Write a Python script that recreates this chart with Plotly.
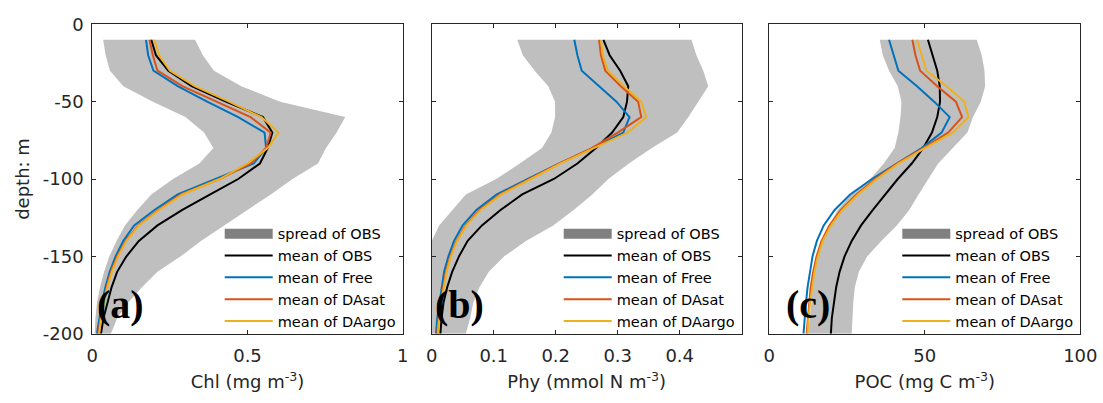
import plotly.graph_objects as go

depth = [-10, -20, -30, -40, -50, -60, -70, -80, -90, -100,
         -110, -120, -130, -140, -150, -160, -170, -180, -190, -200]

# Panel (a) Chl
chl_lo = [0.035, 0.043, 0.057, 0.10, 0.195, 0.30, 0.36, 0.39, 0.345, 0.26,
          0.19, 0.145, 0.105, 0.078, 0.055, 0.038, 0.025, 0.015, 0.010, 0.008]
chl_hi = [0.331, 0.356, 0.392, 0.48, 0.605, 0.815, 0.787, 0.753, 0.727, 0.645,
          0.575, 0.50, 0.425, 0.35, 0.285, 0.21, 0.16, 0.115, 0.08, 0.06]
chl_obs = [0.19, 0.205, 0.245, 0.32, 0.43, 0.55, 0.58, 0.565, 0.54, 0.47,
           0.38, 0.29, 0.21, 0.15, 0.11, 0.08, 0.062, 0.048, 0.036, 0.028]
chl_free = [0.173, 0.18, 0.197, 0.275, 0.37, 0.47, 0.555, 0.56, 0.52, 0.40,
            0.275, 0.20, 0.135, 0.10, 0.075, 0.056, 0.042, 0.031, 0.022, 0.015]
chl_dasat = [0.184, 0.195, 0.21, 0.29, 0.40, 0.51, 0.575, 0.56, 0.51, 0.41,
             0.285, 0.212, 0.148, 0.108, 0.08, 0.06, 0.046, 0.035, 0.026, 0.02]
chl_daargo = [0.20, 0.215, 0.25, 0.33, 0.44, 0.545, 0.60, 0.565, 0.50, 0.41,
              0.29, 0.215, 0.15, 0.11, 0.083, 0.063, 0.048, 0.037, 0.028, 0.022]

# Panel (b) Phy
phy_lo = [0.138, 0.147, 0.166, 0.188, 0.199, 0.199, 0.193, 0.178, 0.142, 0.104,
          0.055, 0.033, 0.012, 0.0, 0.0, 0.0, 0.0, 0.0, 0.0, 0.0]
phy_hi = [0.419, 0.427, 0.438, 0.446, 0.43, 0.414, 0.396, 0.355, 0.318, 0.285,
          0.259, 0.229, 0.196, 0.152, 0.117, 0.092, 0.077, 0.067, 0.062, 0.055]
phy_obs = [0.277, 0.287, 0.304, 0.317, 0.315, 0.309, 0.291, 0.265, 0.235, 0.197,
           0.146, 0.111, 0.081, 0.058, 0.044, 0.033, 0.025, 0.019, 0.016, 0.014]
phy_free = [0.23, 0.235, 0.242, 0.27, 0.298, 0.319, 0.309, 0.26, 0.205, 0.155,
            0.105, 0.072, 0.05, 0.036, 0.027, 0.02, 0.016, 0.012, 0.009, 0.007]
phy_dasat = [0.27, 0.273, 0.28, 0.305, 0.333, 0.338, 0.30, 0.258, 0.205, 0.158,
             0.11, 0.077, 0.055, 0.04, 0.03, 0.023, 0.018, 0.014, 0.011, 0.009]
phy_daargo = [0.273, 0.276, 0.284, 0.31, 0.338, 0.346, 0.316, 0.262, 0.207, 0.16,
              0.112, 0.079, 0.056, 0.041, 0.031, 0.024, 0.019, 0.015, 0.012, 0.010]

# Panel (c) POC
poc_lo = [35.5, 36.5, 38.5, 41.3, 42.5, 42.2, 41.5, 40.3, 36.8, 32.5,
          26.3, 22.0, 19.2, 17.3, 15.8, 14.7, 14.0, 13.5, 13.0, 12.5]
poc_hi = [66.7, 68.3, 69.2, 69.4, 68.0, 65.5, 63.7, 59.0, 54.3, 51.2,
          48.0, 45.0, 41.0, 36.0, 31.5, 28.8, 27.5, 27.0, 26.7, 26.5]
poc_obs = [51.0, 52.5, 54.0, 54.8, 54.9, 54.0, 52.3, 49.5, 45.8, 41.3,
           37.2, 33.3, 29.5, 26.5, 24.2, 22.6, 21.5, 20.7, 20.1, 19.8]
poc_free = [38.5, 40.0, 41.5, 47.5, 53.0, 58.0, 55.4, 49.0, 41.0, 33.0,
            26.0, 21.0, 17.5, 15.3, 13.9, 13.0, 12.3, 11.8, 11.3, 11.0]
poc_dasat = [46.0, 47.0, 48.5, 54.0, 60.0, 62.0, 57.5, 49.5, 41.0, 34.0,
             28.0, 23.0, 19.3, 16.8, 15.2, 14.1, 13.3, 12.8, 12.3, 12.0]
poc_daargo = [47.5, 49.0, 50.5, 57.0, 62.7, 64.0, 59.0, 50.0, 41.5, 34.5,
              28.5, 23.5, 19.8, 17.2, 15.6, 14.5, 13.7, 13.1, 12.6, 12.3]

series_names = ["mean of OBS", "mean of Free", "mean of DAsat", "mean of DAargo"]
series_colors = ["#000000", "#0072BD", "#D95319", "#EDB120"]

depth_ticks = [-200, -150, -100, -50, 0]
depth_ticktext = ["-200", "-150", "-100", "-50", "0"]

panels = [
    dict(lo=chl_lo, hi=chl_hi, lines=[chl_obs, chl_free, chl_dasat, chl_daargo],
         xrange=[0, 1], tickvals=[0, 0.5, 1], ticktext=["0", "0.5", "1"],
         title="Chl (mg m<sup>-3</sup>)", label="(a)"),
    dict(lo=phy_lo, hi=phy_hi, lines=[phy_obs, phy_free, phy_dasat, phy_daargo],
         xrange=[0, 0.5], tickvals=[0, 0.1, 0.2, 0.3, 0.4],
         ticktext=["0", "0.1", "0.2", "0.3", "0.4"],
         title="Phy (mmol N m<sup>-3</sup>)", label="(b)"),
    dict(lo=poc_lo, hi=poc_hi, lines=[poc_obs, poc_free, poc_dasat, poc_daargo],
         xrange=[0, 100], tickvals=[0, 50, 100], ticktext=["0", "50", "100"],
         title="POC (mg C m<sup>-3</sup>)", label="(c)"),
]

W, H = 1103, 403
xdoms = [(92.3, 402.7), (431.7, 741.7), (769.3, 1080.3)]
label_left = [95, 433, 784]
ytop, ybot = 24.3, 333.7
ydom = [1 - ybot / H, 1 - ytop / H]

AX = "#262626"
FONT = "DejaVu Sans"

fig = go.Figure()

for i, p in enumerate(panels):
    n = "" if i == 0 else str(i + 1)
    xa, ya = "x" + n, "y" + n
    leg = "legend" + n
    fig.add_trace(go.Scatter(
        x=p["lo"] + p["hi"][::-1], y=depth + depth[::-1],
        fill="toself", fillcolor="#BFBFBF", line=dict(width=0),
        mode="lines", showlegend=False, hoverinfo="skip",
        xaxis=xa, yaxis=ya))
    # legend swatch for spread
    fig.add_trace(go.Scatter(
        x=[None], y=[None], mode="lines", name="spread of OBS",
        line=dict(color="#808080", width=14),
        xaxis=xa, yaxis=ya, legend=leg))
    for vals, nm, col in zip(p["lines"], series_names, series_colors):
        fig.add_trace(go.Scatter(
            x=vals, y=depth, mode="lines", name=nm,
            line=dict(color=col, width=2),
            xaxis=xa, yaxis=ya, legend=leg))

    x0, x1 = xdoms[i]
    common = dict(showline=True, linecolor=AX, linewidth=1, mirror="allticks",
                  ticks="inside", ticklen=4, tickcolor=AX, showgrid=False,
                  zeroline=False, automargin=False,
                  tickfont=dict(family=FONT, size=18, color=AX))
    fig.layout["xaxis" + n] = dict(
        domain=[x0 / W, x1 / W], range=p["xrange"], anchor=ya,
        tickvals=p["tickvals"], ticktext=p["ticktext"], ticklabelstandoff=6,
        title=dict(text=p["title"], font=dict(family=FONT, size=18, color=AX), standoff=10),
        **common)
    fig.layout["yaxis" + n] = dict(
        domain=ydom, range=[-200, 0], anchor=xa,
        tickvals=depth_ticks, ticktext=depth_ticktext,
        showticklabels=(i == 0), ticklabelstandoff=4,
        title=dict(text="depth: m" if i == 0 else "",
                   font=dict(family=FONT, size=18, color=AX), standoff=8),
        **common)
    fig.layout[leg] = dict(
        x=(x1 - 2) / W, y=1 - (ybot + 4) / H, xanchor="right", yanchor="bottom",
        bgcolor="rgba(0,0,0,0)", borderwidth=0, itemwidth=48,
        font=dict(family=FONT, size=14.5, color="#000000"),
        tracegroupgap=0, itemclick=False)
    fig.add_annotation(
        x=label_left[i] / W, y=1 - 304 / H, xref="paper", yref="paper",
        xanchor="left", yanchor="middle",
        text="<b>" + p["label"] + "</b>", showarrow=False,
        font=dict(family="Liberation Serif", size=40, color="#000000"))

fig.update_layout(
    width=W, height=H, margin=dict(l=0, r=0, t=0, b=0, pad=0),
    paper_bgcolor="white", plot_bgcolor="white",
    font=dict(family=FONT, color=AX),
)

fig.write_html("out.html", config={"displayModeBar": False},
               post_script="document.body.style.margin='0px';document.body.style.padding='0px';")
